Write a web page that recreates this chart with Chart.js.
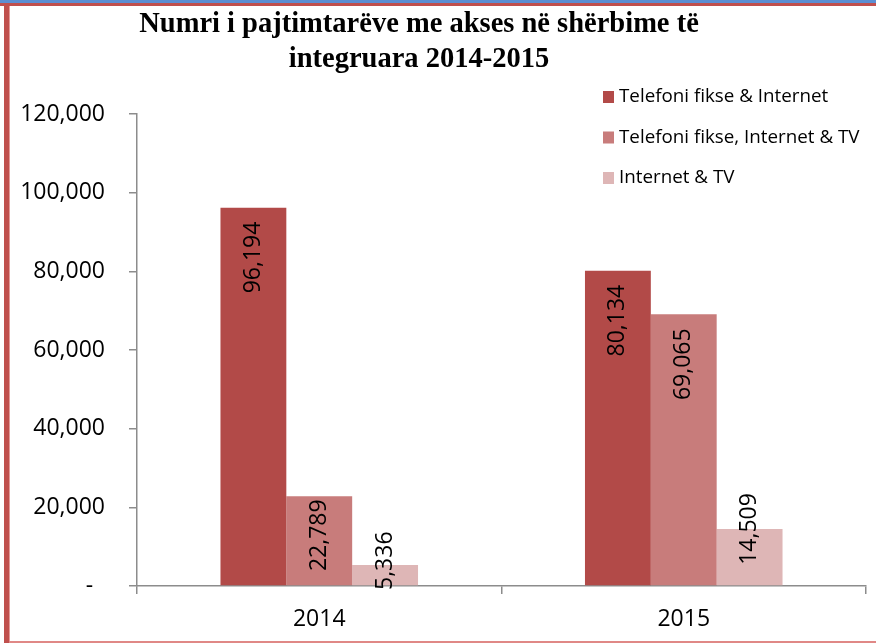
<!DOCTYPE html>
<html>
<head>
<meta charset="utf-8">
<script src="https://cdn.jsdelivr.net/npm/chart.js@4/dist/chart.umd.min.js"></script>
<style>
  body { margin: 0; background: #fff; }
  .frame { position: relative; width: 876px; height: 643px; overflow: hidden; background: #fff; }
  .top-blue { position: absolute; left: 0; top: 0; width: 876px; height: 3px; background: #5b8fd3; }
  .top-red { position: absolute; left: 0; top: 3px; width: 876px; height: 3px; background: #c0504d; }
  .left-red { position: absolute; left: 4px; top: 3px; width: 5px; height: 640px; background: #c0504d; }
  .left-line { position: absolute; left: 9px; top: 6px; width: 1px; height: 637px; background: #e39a98; }
  .bottom-line { position: absolute; left: 9px; top: 641px; width: 867px; height: 2px; background: #e08886; }
  .wrap { position: absolute; left: 10px; top: 6px; width: 866px; height: 635px; }
</style>
</head>
<body>
<div class="frame">
  <div class="top-blue"></div>
  <div class="top-red"></div>
  <div class="left-red"></div>
  <div class="left-line"></div>
  <div class="bottom-line"></div>
  <div class="wrap"><canvas id="chart"></canvas></div>
</div>
<script>
// data
const years = ["2014", "2015"];
const seriesNames = ["Telefoni fikse & Internet", "Telefoni fikse, Internet & TV", "Internet & TV"];
const fiksInternet = [96194, 80134];
const fiksInternetTv = [22789, 69065];
const internetTv = [5336, 14509];
const seriesColors = ["#b24a48", "#c87c7b", "#deb6b6"];
const titleLines = ["Numri i pajtimtarëve me akses në shërbime të", "integruara 2014-2015"];

const font = "'Open Sans', 'Noto Sans', sans-serif";

// title drawn by hand so it sits left of centre like the original
const titlePlugin = {
  id: "titleText",
  afterDraw(chart) {
    const ctx = chart.ctx;
    ctx.save();
    ctx.fillStyle = "#000";
    ctx.font = "bold 28.5px 'Liberation Serif', serif";
    ctx.textAlign = "center";
    ctx.textBaseline = "middle";
    ctx.fillText(titleLines[0], 409, 19);
    ctx.fillText(titleLines[1], 409, 54);
    ctx.restore();
  }
};

// legend in the top right, inside the plot
const legendPlugin = {
  id: "sideLegend",
  afterDraw(chart) {
    const ctx = chart.ctx;
    ctx.save();
    ctx.font = "18.8px " + font;
    ctx.textBaseline = "middle";
    chart.data.datasets.forEach((ds, i) => {
      const y = 91 + i * 40.5;
      ctx.fillStyle = ds.backgroundColor;
      ctx.fillRect(593, y - 6, 11, 12);
      ctx.fillStyle = "#000";
      ctx.fillText(ds.label, 609, y);
    });
    ctx.restore();
  }
};

// rotated value labels at the top of each bar
const labelPlugin = {
  id: "barLabels",
  afterDatasetsDraw(chart) {
    const ctx = chart.ctx;
    const base = chart.scales.y.getPixelForValue(0);
    ctx.save();
    ctx.font = "23px " + font;
    ctx.fillStyle = "#000";
    ctx.textBaseline = "middle";
    chart.data.datasets.forEach((ds, i) => {
      chart.getDatasetMeta(i).data.forEach((bar, j) => {
        const text = ds.data[j].toLocaleString("en-US");
        const w = ctx.measureText(text).width;
        const h = base - bar.y;
        let top;
        if (w + 28 < h) {
          top = bar.y + 14;
        } else if (w + 6 < h) {
          top = bar.y + 3;
        } else {
          top = Math.min(bar.y - w / 2, base + 4 - w);
        }
        ctx.save();
        ctx.translate(bar.x, top);
        ctx.rotate(-Math.PI / 2);
        ctx.textAlign = "right";
        ctx.fillText(text, 0, 0);
        ctx.restore();
      });
    });
    ctx.restore();
  }
};

new Chart(document.getElementById("chart"), {
  type: "bar",
  data: {
    labels: years,
    datasets: [
      { label: seriesNames[0], data: fiksInternet, backgroundColor: seriesColors[0] },
      { label: seriesNames[1], data: fiksInternetTv, backgroundColor: seriesColors[1] },
      { label: seriesNames[2], data: internetTv, backgroundColor: seriesColors[2] }
    ]
  },
  options: {
    responsive: true,
    maintainAspectRatio: false,
    animation: false,
    layout: { padding: { top: 108, right: 10, left: 0, bottom: 0 } },
    datasets: { bar: { categoryPercentage: 0.542, barPercentage: 1 } },
    plugins: {
      legend: { display: false },
      tooltip: { enabled: false },
      title: { display: false }
    },
    scales: {
      x: {
        grid: { display: true, drawOnChartArea: false, drawTicks: true, tickLength: 8, color: "#8c8c8c", lineWidth: 1.5 },
        border: { color: "#8c8c8c", width: 1.5 },
        ticks: { color: "#000", font: { family: font, size: 23 }, padding: 12 },
        afterFit(scale) { scale.height = 55; }
      },
      y: {
        min: 0,
        max: 120000,
        grid: { display: true, drawOnChartArea: false, drawTicks: true, tickLength: 8, color: "#8c8c8c", lineWidth: 1.5 },
        border: { color: "#8c8c8c", width: 1.5 },
        ticks: {
          stepSize: 20000,
          color: "#000",
          padding: 24,
          font: { family: font, size: 23 },
          callback: (v) => v === 0 ? "-  " : v.toLocaleString("en-US")
        },
        afterFit(scale) { scale.width = 127; }
      }
    }
  },
  plugins: [titlePlugin, legendPlugin, labelPlugin]
});
</script>
</body>
</html>
